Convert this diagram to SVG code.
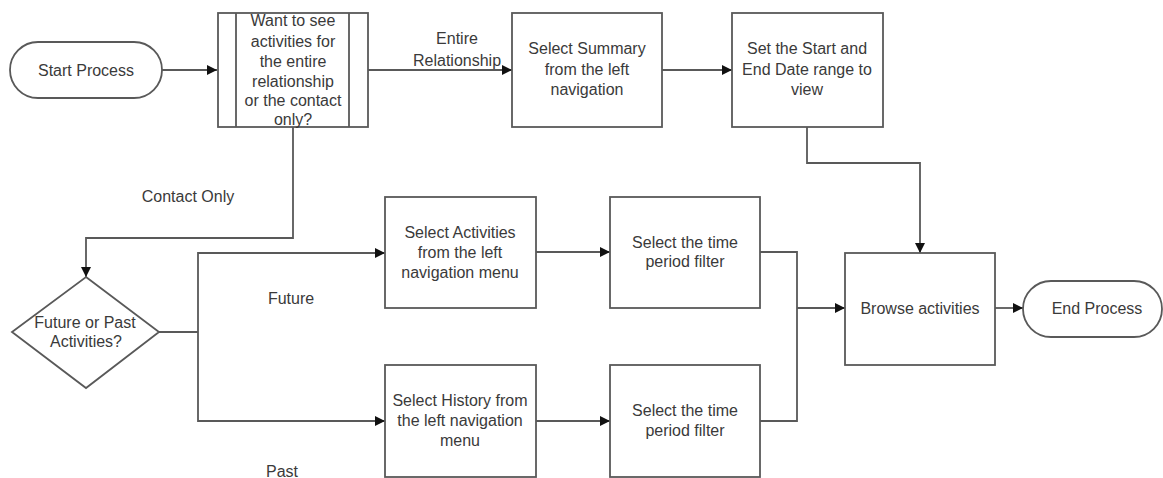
<svg xmlns="http://www.w3.org/2000/svg" width="1163" height="478" viewBox="0 0 1163 478">
  <style>
    .shape { fill: #ffffff; stroke: #595959; stroke-width: 1.8; }
    .line { fill: none; stroke: #595959; stroke-width: 1.8; }
    .lbl { font-family: "Liberation Sans", Arial, sans-serif; font-size: 16px; fill: #3a3a3a; text-anchor: middle; }
  </style>
  <defs>
    <marker id="arrow" markerWidth="10" markerHeight="10" refX="10" refY="5" orient="auto" markerUnits="userSpaceOnUse">
      <path d="M0,0 L10,5 L0,10 Z" fill="#111111"/>
    </marker>
  </defs>
  <rect width="1163" height="478" fill="#ffffff"/>

  <g id="connectors">
    <path class="line" d="M162,70 H217" marker-end="url(#arrow)"/>
    <path class="line" d="M368,70 H512" marker-end="url(#arrow)"/>
    <path class="line" d="M662,70 H732" marker-end="url(#arrow)"/>
    <path class="line" d="M807,127 V163 H920 V253" marker-end="url(#arrow)"/>
    <path class="line" d="M293,127 V238 H86 V277" marker-end="url(#arrow)"/>
    <path class="line" d="M159,332 H198"/>
    <path class="line" d="M198,332 V253 H385" marker-end="url(#arrow)"/>
    <path class="line" d="M198,332 V421 H385" marker-end="url(#arrow)"/>
    <path class="line" d="M536,252 H610" marker-end="url(#arrow)"/>
    <path class="line" d="M536,421 H610" marker-end="url(#arrow)"/>
    <path class="line" d="M760,252 H797 V421 H760"/>
    <path class="line" d="M797,308 H845" stroke-width="2.4" marker-end="url(#arrow)"/>
    <path class="line" d="M995,308 H1023" marker-end="url(#arrow)"/>
  </g>

  <g id="edge-labels">
    <text class="lbl" x="457" y="44">Entire</text>
    <text class="lbl" x="457" y="66">Relationship</text>
    <text class="lbl" x="188" y="202">Contact Only</text>
    <text class="lbl" x="291" y="304">Future</text>
    <text class="lbl" x="282" y="477">Past</text>
  </g>

  <g id="start">
    <rect class="shape" x="10" y="42" width="152" height="56" rx="28" ry="28"/>
    <text class="lbl" x="86" y="76">Start Process</text>
  </g>

  <g id="scope-choice">
    <rect class="shape" x="218" y="13" width="150" height="114"/>
    <line class="line" x1="236" y1="13" x2="236" y2="127"/>
    <line class="line" x1="349" y1="13" x2="349" y2="127"/>
    <text class="lbl" x="293" y="26">Want to see</text>
    <text class="lbl" x="293" y="47">activities for</text>
    <text class="lbl" x="293" y="67">the entire</text>
    <text class="lbl" x="293" y="87">relationship</text>
    <text class="lbl" x="293" y="106">or the contact</text>
    <text class="lbl" x="293" y="125">only?</text>
  </g>

  <g id="select-summary">
    <rect class="shape" x="512" y="13" width="150" height="114"/>
    <text class="lbl" x="587" y="54">Select Summary</text>
    <text class="lbl" x="587" y="75">from the left</text>
    <text class="lbl" x="587" y="95">navigation</text>
  </g>

  <g id="set-date-range">
    <rect class="shape" x="732" y="13" width="151" height="114"/>
    <text class="lbl" x="807" y="54">Set the Start and</text>
    <text class="lbl" x="807" y="75">End Date range to</text>
    <text class="lbl" x="807" y="95">view</text>
  </g>

  <g id="time-choice">
    <polygon class="shape" points="86,277 159,332 86,388 12,332"/>
    <text class="lbl" x="85" y="328">Future or Past</text>
    <text class="lbl" x="86" y="347">Activities?</text>
  </g>

  <g id="select-activities">
    <rect class="shape" x="385" y="197" width="151" height="111"/>
    <text class="lbl" x="460" y="238">Select Activities</text>
    <text class="lbl" x="460" y="258">from the left</text>
    <text class="lbl" x="460" y="278">navigation menu</text>
  </g>

  <g id="select-history">
    <rect class="shape" x="385" y="365" width="151" height="112"/>
    <text class="lbl" x="460" y="406">Select History from</text>
    <text class="lbl" x="460" y="426">the left navigation</text>
    <text class="lbl" x="460" y="446">menu</text>
  </g>

  <g id="filter-future">
    <rect class="shape" x="610" y="197" width="150" height="111"/>
    <text class="lbl" x="685" y="248">Select the time</text>
    <text class="lbl" x="685" y="267">period filter</text>
  </g>

  <g id="filter-past">
    <rect class="shape" x="610" y="365" width="150" height="112"/>
    <text class="lbl" x="685" y="416">Select the time</text>
    <text class="lbl" x="685" y="436">period filter</text>
  </g>

  <g id="browse">
    <rect class="shape" x="845" y="253" width="150" height="112"/>
    <text class="lbl" x="920" y="314">Browse activities</text>
  </g>

  <g id="end">
    <rect class="shape" x="1023" y="281" width="139" height="56" rx="28" ry="28"/>
    <text class="lbl" x="1097" y="314">End Process</text>
  </g>
</svg>
